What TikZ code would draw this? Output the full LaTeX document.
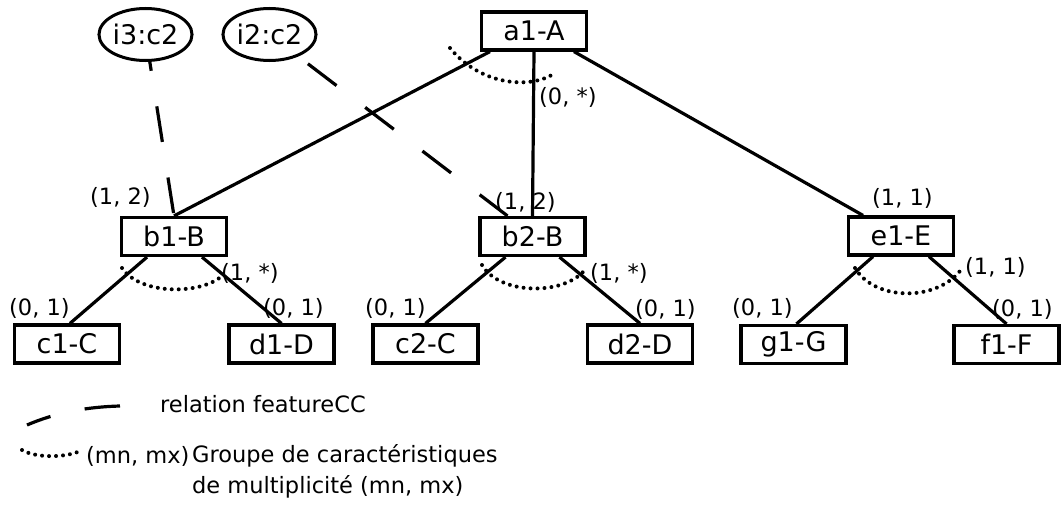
\documentclass[tikz,border=0pt]{standalone}
\usepackage{fontspec}
\setmainfont{DejaVu Sans}
\usetikzlibrary{shapes.geometric}
\begin{document}
\begin{tikzpicture}[x=1pt,y=-1pt,
  box/.style={draw, line width=3.2pt, minimum width=105pt, minimum height=38pt, inner sep=0pt, font=\fontsize{27}{31}\selectfont},
  inst/.style={draw, ellipse, line width=3pt, minimum width=84pt, minimum height=52pt, inner sep=0pt, font=\fontsize{27}{31}\selectfont},
  lbl/.style={anchor=base west, inner sep=0pt, font=\fontsize{22.5}{27}\selectfont},
  edge/.style={line width=3.2pt},
  rel/.style={line width=3.2pt, dash pattern=on 36pt off 36pt},
  grp/.style={line width=4pt, line cap=round, dash pattern=on 0pt off 7pt}]
\fill[white] (0,0) rectangle (1061,506);
\useasboundingbox (0,0) rectangle (1061,506);

% feature boxes
\node[box] (a1) at (534,31) {a1-A};
\node[box] (b1) at (174,236.5) {b1-B};
\node[box] (b2) at (532.5,236.5) {b2-B};
\node[box] (e1) at (901,236) {e1-E};
\node[box] (c1) at (67,344) {c1-C};
\node[box] (d1) at (281.5,344) {d1-D};
\node[box] (c2) at (425.5,344) {c2-C};
\node[box] (d2) at (640,344) {d2-D};
\node[box] (g1) at (793.5,344.5) {g1-G};
\node[box] (f1) at (1006.5,344.5) {f1-F};

% instances
\node[inst] (i3) at (145.5,34.5) {i3:c2};
\node[inst] (i2) at (269.5,34.5) {i2:c2};

% tree edges
\draw[edge] ([xshift=-44pt]a1.south) -- (b1.north);
\draw[edge] (a1.south) -- (b2.north);
\draw[edge] ([xshift=40pt]a1.south) -- ([xshift=-38pt]e1.north);
\draw[edge] ([xshift=-27pt]b1.south) -- ([xshift=3pt]c1.north);
\draw[edge] ([xshift=28pt]b1.south) -- (d1.north);
\draw[edge] ([xshift=-27pt]b2.south) -- (c2.north);
\draw[edge] ([xshift=27pt]b2.south) -- (d2.north);
\draw[edge] ([xshift=-28pt]e1.south) -- ([xshift=3pt]g1.north);
\draw[edge] ([xshift=28pt]e1.south) -- (f1.north);

% featureCC relations
\draw[rel, dash phase=27pt] (i3) -- (b1.north);
\draw[rel, shorten <=12pt] (i2) -- ([xshift=-25pt]b2.north);

% group arcs
\draw[grp] (450,48) .. controls (480,85) and (530,90) .. (555,73);
\draw[grp] (122,268) .. controls (140,295) and (200,295) .. (222,276);
\draw[grp] (482,265) .. controls (500,296) and (568,296) .. (587,267);
\draw[grp] (855,268) .. controls (875,302) and (940,302) .. (963,267);

% cardinality labels
\node[lbl] (la1) at (539,104) {(0, *)};
\node[lbl] (lb1) at (90,204) {(1, 2)};
\node[lbl] (lb2) at (495,209) {(1, 2)};
\node[lbl] (le1) at (872,205) {(1, 1)};
\node[lbl] (gb1) at (221,280) {(1, *)};
\node[lbl] (gb2) at (590,280) {(1, *)};
\node[lbl] (ge1) at (965,274) {(1, 1)};
\node[lbl] (lc1) at (9,315) {(0, 1)};
\node[lbl] (ld1) at (263,315) {(0, 1)};
\node[lbl] (lc2) at (365,315) {(0, 1)};
\node[lbl] (ld2) at (635,316) {(0, 1)};
\node[lbl] (lg1) at (732,315) {(0, 1)};
\node[lbl] (lf1) at (992,316) {(0, 1)};

% legend
\draw[line width=3.2pt, dash pattern=on 25pt off 35pt on 36pt off 40pt] (27,425) .. controls (55,413) and (85,407) .. (120,406);
\node[lbl] (leg1) at (160,412) {relation featureCC};
\draw[grp] (22,450) .. controls (35,458) and (65,458) .. (80,451);
\node[lbl] (leg2) at (86,463) {(mn, mx)};
\node[lbl] (leg3) at (192,462) {Groupe de caractéristiques};
\node[lbl] (leg4) at (192,493) {de multiplicité (mn, mx)};
\end{tikzpicture}
\end{document}
